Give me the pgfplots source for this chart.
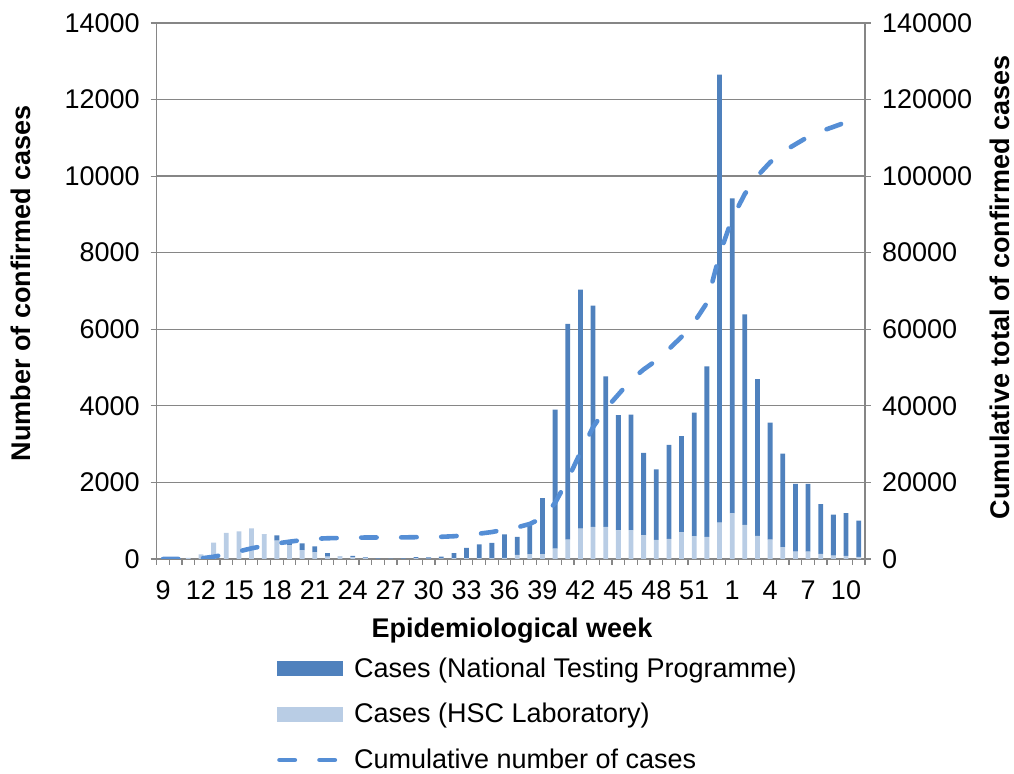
\documentclass[border=0pt]{standalone}
\usepackage{fontspec}
\setmainfont{Liberation Sans}
\usepackage{pgfplots}
\pgfplotsset{compat=1.18}
\usepackage{pgfplotstable}
\definecolor{ntp}{RGB}{79,129,189}
\definecolor{hsc}{RGB}{185,205,229}
\definecolor{cumc}{RGB}{85,142,213}
\definecolor{gridc}{RGB}{134,134,134}
\pgfplotsset{
  ntplegend/.style={legend image code/.code={\fill[ntp] (0pt,-3.7pt) rectangle (33pt,3.7pt);}},
  hsclegend/.style={legend image code/.code={\fill[hsc] (0pt,-3.7pt) rectangle (33pt,3.7pt);}},
  cumlegend/.style={legend image code/.code={\draw[cumc, line width=2.3pt, dash pattern=on 7.7pt off 12.3pt, line cap=round] (1.2pt,0pt) -- (31.5pt,0pt);}},
}

\pgfplotstableread{
idx week hsc ntp cum
0 9 0 0 0
1 10 5 0 5
2 11 30 0 35
3 12 120 0 155
4 13 430 0 585
5 14 680 0 1265
6 15 720 0 1985
7 16 800 0 2785
8 17 640 10 3435
9 18 480 140 4055
10 19 360 110 4525
11 20 230 180 4935
12 21 170 160 5265
13 22 60 90 5415
14 23 60 10 5485
15 24 50 30 5565
16 25 20 20 5605
17 26 5 10 5620
18 27 5 5 5630
19 28 5 10 5645
20 29 20 30 5695
21 30 10 30 5735
22 31 15 45 5795
23 32 20 130 5945
24 33 20 270 6235
25 34 20 360 6615
26 35 25 395 7035
27 36 30 610 7675
28 37 110 470 8255
29 38 130 770 9155
30 39 125 1465 10745
31 40 270 3630 14645
32 41 505 5635 20785
33 42 795 6240 27820
34 43 840 5775 34435
35 44 840 3930 39205
36 45 745 3015 42965
37 46 755 3015 46735
38 47 620 2150 49505
39 48 500 1840 51845
40 49 525 2455 54825
41 50 695 2515 58035
42 51 595 3225 61855
43 52 580 4450 66885
44 53 950 11700 79535
45 1 1190 8230 88955
46 2 890 5500 95345
47 3 605 4095 100045
48 4 505 3055 103605
49 5 310 2440 106355
50 6 190 1770 108315
51 7 190 1770 110275
52 8 135 1295 111705
53 9 90 1070 112865
54 10 80 1120 114065
55 11 55 945 115065
}\data

\begin{document}
\begin{tikzpicture}[font=\fontsize{13.5}{16}\selectfont]
\useasboundingbox (-78.35pt,-107.5pt) rectangle (428.65pt,279.5pt);
\begin{axis}[
  at={(0,0)}, anchor=south west,
  scale only axis, width=354.15pt, height=268pt,
  xmin=-0.5, xmax=55.5, ymin=0, ymax=14000,
  ybar stacked, bar width=2.4pt,
  axis y line*=left, axis x line*=bottom,
  axis line style={gridc, line width=0.7pt},
  ytick={0,2000,...,14000},
  scaled y ticks=false,
  /pgf/number format/.cd, fixed, precision=0, 1000 sep={}, assume math mode=true, /pgfplots/.cd,
  ymajorgrids, grid style={gridc, line width=0.65pt},
  xtick={0,3,...,54},
  xticklabels={9,12,15,18,21,24,27,30,33,36,39,42,45,48,51,1,4,7,10},
  minor xtick={-0.5,0.5,...,55.5},
  tick align=outside, major tick length=3pt, minor tick length=3pt,
  tick style={gridc, line width=0.6pt},
  major x tick style={draw=none},
  tick label style={font=\fontsize{13.5}{16}\selectfont},
  yticklabel style={xshift=-2pt},
  xticklabel style={yshift=-4.5pt},
  xlabel={Epidemiological week},
  xlabel style={font=\fontsize{13.5}{16}\selectfont\bfseries, at={(axis description cs:0.5016,-0.1335)}, anchor=center},
  ylabel={Number of confirmed cases},
  ylabel style={font=\fontsize{13.5}{16}\selectfont\bfseries, at={(axis description cs:-0.1916,0.514)}, anchor=center},
  reverse legend,
  legend cell align=left,
  legend style={at={(axis description cs:0.170,-0.1765)}, anchor=north west,
    draw=none, fill=none, inner sep=0pt, outer sep=0pt,
    row sep=7.5pt, font=\fontsize{13.5}{16}\selectfont,
    /tikz/every odd column/.append style={column sep=3.5pt}},
]
\addlegendimage{cumlegend}
\addplot[fill=hsc, draw=none, hsclegend]
  table[x=idx, y=hsc]{\data};
\addplot[fill=ntp, draw=none, ntplegend]
  table[x=idx, y=ntp]{\data};
\legend{Cumulative number of cases, Cases (HSC Laboratory), Cases (National Testing Programme)}
\end{axis}
\begin{axis}[
  at={(0,0)}, anchor=south west,
  scale only axis, width=354.15pt, height=268pt,
  xmin=-0.5, xmax=55.5, ymin=0, ymax=140000,
  axis y line*=right, axis x line=none,
  axis line style={gridc, line width=0.7pt},
  ytick={0,20000,...,140000},
  scaled y ticks=false,
  /pgf/number format/.cd, fixed, precision=0, 1000 sep={}, assume math mode=true, /pgfplots/.cd,
  tick align=outside, major tick length=3pt,
  tick style={gridc, line width=0.6pt},
  tick label style={font=\fontsize{13.5}{16}\selectfont},
  yticklabel style={xshift=2pt},
  ylabel={Cumulative total of confirmed cases},
  ylabel style={font=\fontsize{13.5}{16}\selectfont\bfseries, at={(axis description cs:1.1906,0.507)}, anchor=center},
]
\addplot[cumc, line width=2.3pt, dash pattern=on 7.7pt off 12.3pt, line cap=round, mark=none]
  table[x=idx, y=cum]{\data};
\end{axis}
\end{tikzpicture}
\end{document}
